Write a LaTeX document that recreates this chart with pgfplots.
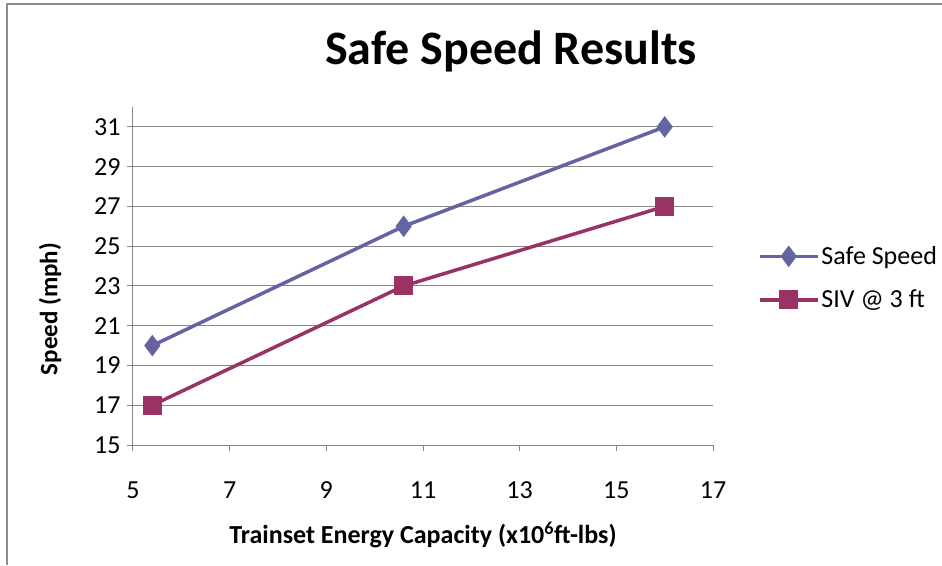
\documentclass[border=0pt]{standalone}
\usepackage{fontspec}
\setmainfont{Carlito}
\usepackage{pgfplots}
\pgfplotsset{compat=1.18}

\definecolor{safeblue}{RGB}{100,100,162}
\definecolor{sivred}{RGB}{153,51,102}
\definecolor{gridgray}{RGB}{134,134,134}
\definecolor{framegray}{RGB}{140,140,140}

\begin{document}
\begin{tikzpicture}
\useasboundingbox (0pt,0pt) rectangle (942pt,565pt);
% chart frame (top and left edges)
\draw[framegray, line width=2pt] (6.5pt,0pt) -- (6.5pt,560.5pt) -- (942pt,560.5pt);
\node[font={\fontsize{48}{56}\selectfont\bfseries}] at (511pt,514pt) {Safe Speed Results};
\begin{axis}[
  at={(133pt,120pt)}, anchor=origin,
  scale only axis, width=580pt, height=338pt,
  xmin=5, xmax=17, ymin=15, ymax=32,
  xtick={5,7,...,17}, ytick={15,17,...,31},
  axis x line*=bottom, axis y line*=left,
  axis line style={gridgray, line width=1pt, -},
  ymajorgrids, major grid style={gridgray, line width=1pt},
  tick style={gridgray, line width=1pt},
  tick align=outside, major tick length=6pt,
  /pgf/number format/assume math mode=true,
  ticklabel style={font={\fontsize{26}{31}\selectfont}},
  xticklabel style={yshift=-27pt},
  yticklabel style={xshift=-3pt},
  label style={font={\fontsize{25}{30}\selectfont\bfseries}},
  xlabel={Trainset Energy Capacity (x10\textsuperscript{6}ft-lbs)},
  ylabel={Speed (mph)},
  xlabel style={at={(axis description cs:0.5,0)}, anchor=center, yshift=-90pt,
    font={\fontsize{26}{31}\selectfont\bfseries}},
  ylabel style={at={(axis description cs:0,0.402)}, anchor=center, rotate=0, yshift=83pt},
  legend style={at={(1.072,0.494)}, anchor=west, draw=none, fill=none,
    font={\fontsize{26}{31}\selectfont}, row sep=20pt,
    /tikz/every even column/.append style={column sep=4pt}},
  legend cell align=left,
  legend image code/.code={
    \draw[mark repeat=2, mark phase=2] plot coordinates {(0pt,0pt) (29pt,0pt) (58pt,0pt)};
  },
  clip=false,
]
\addplot[safeblue, line width=3.5pt, mark=diamond*, mark size=10pt,
  mark options={solid, line width=1pt, fill=safeblue}]
  coordinates {(5.4,20) (10.6,26) (16.0,31)};
\addlegendentry{Safe Speed}
\addplot[sivred, line width=3.5pt, mark=square*, mark size=9pt,
  mark options={solid, line width=1pt, fill=sivred}]
  coordinates {(5.4,17) (10.6,23) (16.0,27)};
\addlegendentry{SIV @ 3 ft}
\end{axis}
\end{tikzpicture}
\end{document}
